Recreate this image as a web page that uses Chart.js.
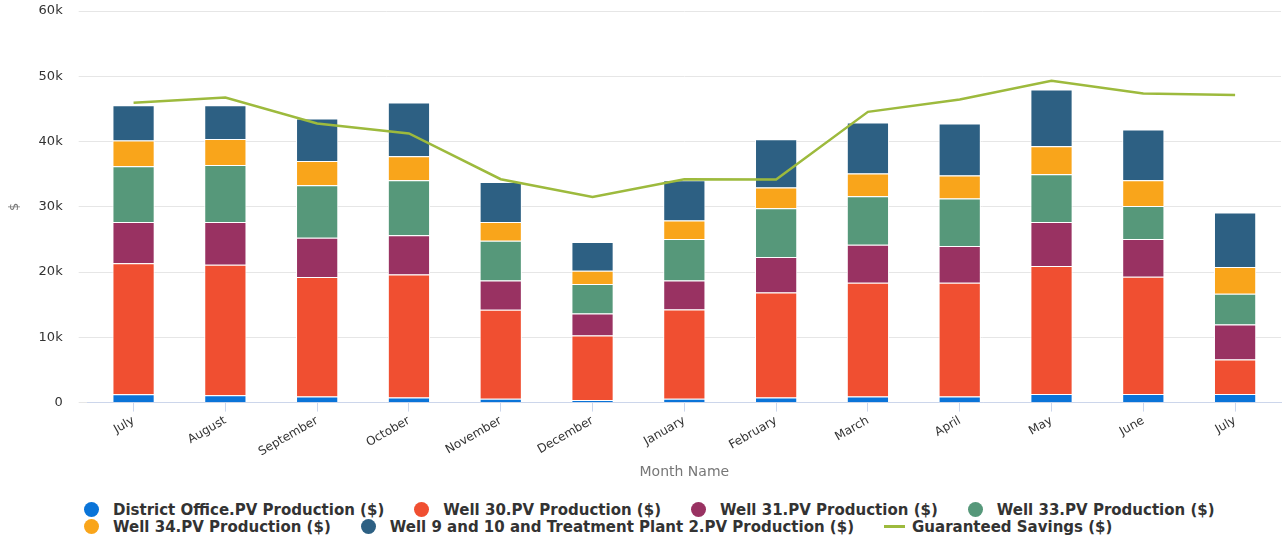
<!DOCTYPE html>
<html>
<head>
<meta charset="utf-8">
<script src="https://cdn.jsdelivr.net/npm/chart.js@4"></script>
<style>
  html, body { margin: 0; padding: 0; background: #fff; }
  #wrap { position: relative; width: 1285px; height: 542px; }
  #box { position: absolute; left: 0; top: 0; width: 1285px; height: 485px; }
  #legend {
    position: absolute; left: 84px; top: 501px; width: 1198px;
    display: flex; flex-wrap: wrap; column-gap: 30px; row-gap: 0;
    font: bold 15px "DejaVu Sans", sans-serif; color: #333;
  }
  #legend .item { display: flex; align-items: center; height: 17px; white-space: nowrap; }
  #legend .dot { width: 15px; height: 15px; border-radius: 50%; margin-right: 14px; }
  #legend .line { width: 21px; height: 3px; margin-right: 7px; }
</style>
</head>
<body>
<div id="wrap">
  <div id="box"><canvas id="chart"></canvas></div>
  <div id="legend"></div>
</div>
<script>
const months = ['July', 'August', 'September', 'October', 'November', 'December', 'January', 'February', 'March', 'April', 'May', 'June', 'July'];

const districtOffice = [1270, 1120, 920, 770, 570, 410, 570, 770, 920, 920, 1330, 1330, 1330];
const well30 = [20060, 20010, 18310, 18870, 13650, 9870, 13700, 16110, 17450, 17450, 19590, 17960, 5270];
const well31 = [6340, 6540, 6040, 5990, 4500, 3380, 4450, 5420, 5830, 5610, 6750, 5770, 5370];
const well33 = [8540, 8740, 8030, 8430, 6090, 4490, 6340, 7470, 7410, 7280, 7320, 5060, 4710];
const well34 = [3950, 3990, 3730, 3690, 2860, 2060, 2820, 3170, 3480, 3530, 4290, 3940, 4080];
const well9and10 = [5410, 5170, 6500, 8240, 6130, 4390, 6180, 7420, 7830, 7970, 8700, 7780, 8350];
const guaranteedSavings = [45930, 46750, 42760, 41230, 34220, 31500, 34220, 34170, 44550, 46450, 49300, 47370, 47110];

const yTicks = [0, 10000, 20000, 30000, 40000, 50000, 60000];

const bar = (label, data, color) => ({
  type: 'bar', label, data,
  backgroundColor: color,
  borderColor: '#ffffff',
  borderWidth: 1,
  stack: 'pv',
  order: 1
});

const datasets = [
  bar('District Office.PV Production ($)', districtOffice, '#0a74d8'),
  bar('Well 30.PV Production ($)', well30, '#f04f31'),
  bar('Well 31.PV Production ($)', well31, '#993262'),
  bar('Well 33.PV Production ($)', well33, '#56987a'),
  bar('Well 34.PV Production ($)', well34, '#f9a51b'),
  bar('Well 9 and 10 and Treatment Plant 2.PV Production ($)', well9and10, '#2d6083'),
  {
    type: 'line',
    label: 'Guaranteed Savings ($)',
    data: guaranteedSavings,
    borderColor: '#9dba3d',
    backgroundColor: '#9dba3d',
    borderWidth: 2.5,
    pointRadius: 0,
    tension: 0,
    order: 0
  }
];

// html legend, built from the datasets
const htmlLegend = {
  id: 'htmlLegend',
  afterUpdate(chart) {
    const el = document.getElementById('legend');
    el.innerHTML = '';
    chart.data.datasets.forEach(ds => {
      const item = document.createElement('div');
      item.className = 'item';
      const mark = document.createElement('span');
      mark.className = ds.type === 'line' ? 'line' : 'dot';
      mark.style.background = ds.type === 'line' ? ds.borderColor : ds.backgroundColor;
      const txt = document.createElement('span');
      txt.textContent = ds.label;
      item.appendChild(mark);
      item.appendChild(txt);
      el.appendChild(item);
    });
  }
};

new Chart(document.getElementById('chart'), {
  data: { labels: months, datasets },
  plugins: [htmlLegend],
  options: {
    responsive: true,
    maintainAspectRatio: false,
    animation: false,
    layout: { padding: { top: 11, right: 4, left: 7, bottom: 4 } },
    plugins: {
      legend: { display: false },
      tooltip: { enabled: false }
    },
    datasets: {
      bar: { categoryPercentage: 1, barPercentage: 0.46 }
    },
    scales: {
      x: {
        stacked: true,
        grid: { drawOnChartArea: false, offset: false, color: '#ccd6eb', tickLength: 9 },
        border: { color: '#ccd6eb' },
        ticks: {
          minRotation: 30, maxRotation: 30,
          color: '#333', padding: 2,
          font: { family: 'DejaVu Sans', size: 12 }
        },
        title: {
          display: true, text: 'Month Name', color: '#777',
          padding: { top: 3, bottom: 0 },
          font: { family: 'DejaVu Sans', size: 14 }
        }
      },
      y: {
        stacked: true,
        min: 0, max: 60000,
        afterBuildTicks: axis => { axis.ticks = yTicks.map(v => ({ value: v })); },
        // keep the label gap from adding space above the plot
        afterFit: axis => { axis.paddingTop = 8; axis.paddingBottom = 8; },
        grid: { color: '#e6e6e6', tickLength: 9 },
        border: { display: false },
        ticks: {
          color: '#333', padding: 16,
          font: { family: 'DejaVu Sans', size: 13 },
          callback: v => v === 0 ? '0' : (v / 1000) + 'k'
        },
        title: {
          display: true, text: '$', color: '#777',
          padding: { top: 0, bottom: 0 },
          font: { family: 'DejaVu Sans', size: 13 }
        }
      }
    }
  }
});
</script>
</body>
</html>
